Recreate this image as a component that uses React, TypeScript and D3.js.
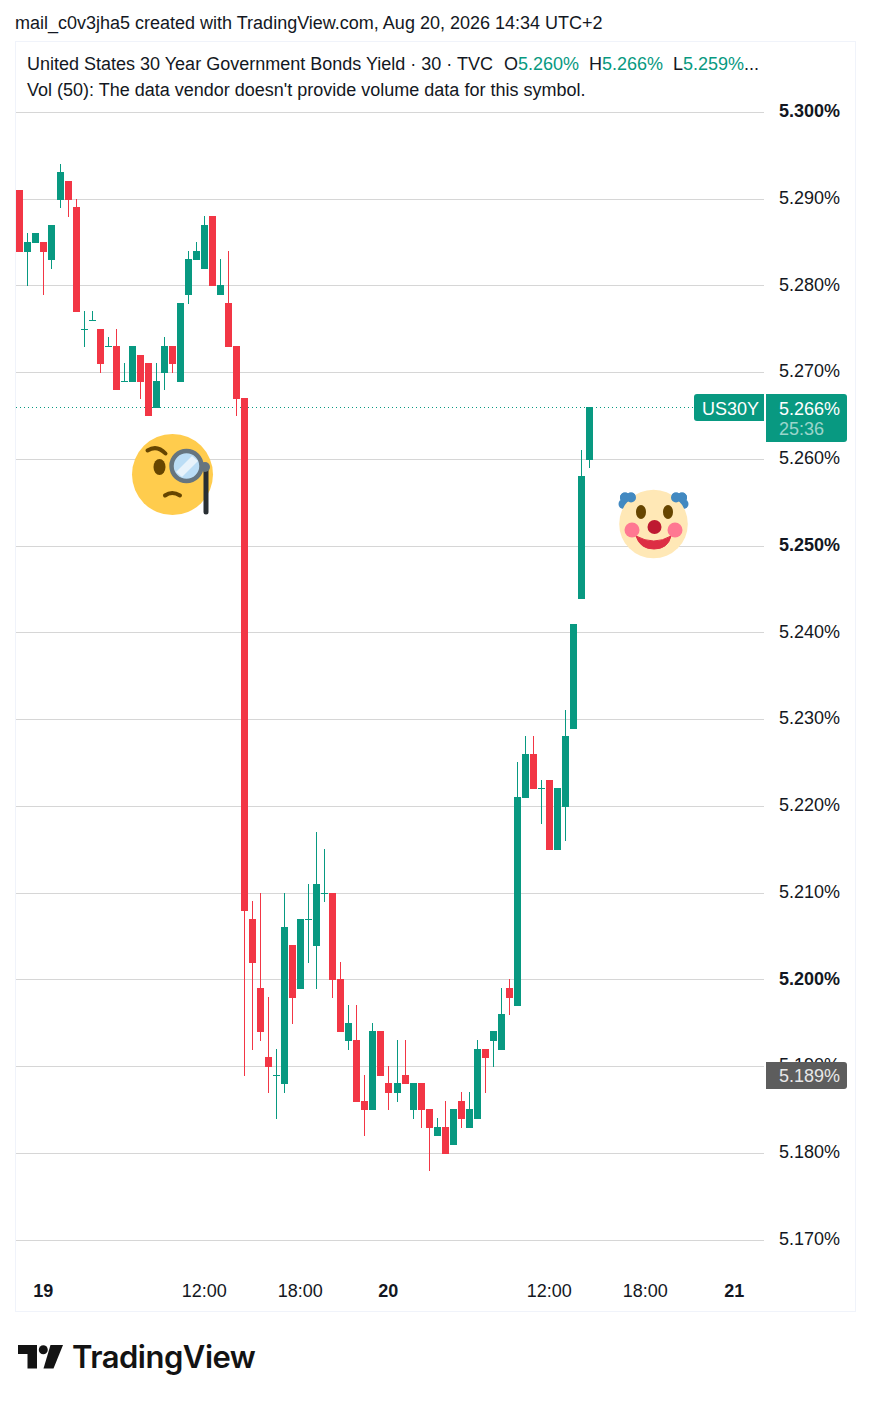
import React from "react";
import * as d3 from "d3";

const FONT = "'Liberation Sans', Arial, sans-serif";
const opens = [5.291,5.284,5.285,5.285,5.283,5.290,5.292,5.289,5.275,5.276,5.275,5.273,5.273,5.269,5.269,5.272,5.271,5.266,5.270,5.273,5.269,5.279,5.283,5.282,5.288,5.279,5.278,5.273,5.267,5.207,5.199,5.191,5.189,5.188,5.204,5.199,5.207,5.204,5.210,5.210,5.200,5.193,5.193,5.186,5.185,5.194,5.188,5.187,5.189,5.185,5.188,5.185,5.182,5.183,5.181,5.186,5.183,5.184,5.192,5.193,5.192,5.199,5.197,5.221,5.226,5.222,5.223,5.215,5.220,5.229,5.244,5.260];
const highs = [5.291,5.286,5.286,5.285,5.287,5.294,5.292,5.290,5.277,5.277,5.275,5.274,5.275,5.271,5.273,5.272,5.271,5.271,5.274,5.273,5.278,5.284,5.285,5.288,5.288,5.283,5.284,5.273,5.267,5.209,5.210,5.198,5.192,5.210,5.204,5.207,5.211,5.217,5.215,5.210,5.202,5.197,5.197,5.189,5.195,5.194,5.190,5.193,5.193,5.188,5.188,5.185,5.184,5.186,5.185,5.187,5.187,5.193,5.192,5.194,5.199,5.200,5.225,5.228,5.228,5.223,5.223,5.222,5.231,5.241,5.261,5.266];
const lows = [5.284,5.280,5.285,5.279,5.282,5.289,5.288,5.277,5.273,5.276,5.270,5.273,5.268,5.269,5.269,5.267,5.265,5.266,5.268,5.270,5.269,5.278,5.283,5.282,5.280,5.279,5.273,5.265,5.189,5.192,5.193,5.187,5.184,5.187,5.195,5.199,5.202,5.199,5.209,5.198,5.194,5.192,5.186,5.182,5.185,5.189,5.185,5.186,5.188,5.184,5.183,5.178,5.182,5.180,5.181,5.183,5.183,5.184,5.187,5.190,5.192,5.196,5.197,5.221,5.222,5.218,5.215,5.215,5.216,5.229,5.244,5.259];
const closes = [5.284,5.285,5.286,5.284,5.287,5.293,5.290,5.277,5.275,5.276,5.271,5.273,5.268,5.269,5.273,5.269,5.265,5.269,5.273,5.271,5.278,5.283,5.284,5.287,5.280,5.280,5.273,5.267,5.208,5.202,5.194,5.190,5.189,5.206,5.198,5.207,5.207,5.211,5.210,5.200,5.194,5.195,5.186,5.185,5.194,5.189,5.187,5.188,5.188,5.188,5.185,5.183,5.183,5.180,5.185,5.184,5.185,5.192,5.191,5.194,5.196,5.198,5.221,5.226,5.222,5.222,5.215,5.222,5.228,5.241,5.258,5.266];

const priceTicks = [5.30,5.29,5.28,5.27,5.26,5.25,5.24,5.23,5.22,5.21,5.20,5.19,5.18,5.17];
const boldPrices = [5.30,5.25,5.20];
const timeIdx = [3,23,35,46,66,78,89];
const timeLabels = ["19","12:00","18:00","20","12:00","18:00","21"];
const boldTimes = ["19","20","21"];
const lastPrice = 5.266;
const crosshairPrice = 5.189;

const GREEN = "#089981";
const RED = "#f23645";

const x = d3.scaleLinear().domain([0, 71]).range([16.89, 586.58]);
const y = d3.scaleLinear().domain([5.17, 5.3]).range([1240, 112.25]);
const left = (i: number) => Math.floor(x(i));
const row = (v: number) => Math.floor(y(v) + 1e-6);

const Monocle = () => (
  <g>
    <circle cx={172.5} cy={474.5} r={40.5} fill="#ffcc4d" />
    <ellipse cx={159.5} cy={467} rx={6} ry={8} fill="#664500" />
    <path d="M147.500,450.500 Q157,444.500 165.500,453.500" fill="none" stroke="#664500" strokeWidth={4} strokeLinecap="round" />
    <path d="M165,495.500 Q172,490.500 180,495.500" fill="none" stroke="#664500" strokeWidth={4} strokeLinecap="round" />
    <line x1={206} y1={468} x2={206} y2={512} stroke="#292f33" strokeWidth={5} strokeLinecap="round" />
    <circle cx={205} cy={467} r={5} fill="#66757f" />
    <circle cx={186.5} cy={466} r={15} fill="#bbddf5" stroke="#66757f" strokeWidth={4.5} />
    <path d="M176,472 L192,456 L198,461 L182,477 Z" fill="#e8f3fb" />
  </g>
);

const Clown = () => (
  <g>
    {[[625,497.5],[631,497.5],[623.500,504],[628,503],[682,497.5],[676,497.5],[683.500,504],[679,503]].map(([cx, cy], i) => (
      <circle key={i} cx={cx} cy={cy} r={5} fill="#4289c1" />
    ))}
    <circle cx={653.5} cy={524} r={34.3} fill="#ffe8b6" />
    {[[625,497.5],[631,497.5],[682,497.5],[676,497.5]].map(([cx, cy], i) => (
      <circle key={i} cx={cx} cy={cy} r={5} fill="#4289c1" />
    ))}
    <ellipse cx={641} cy={512} rx={5} ry={7} fill="#664500" />
    <ellipse cx={668} cy={512} rx={5} ry={7} fill="#664500" />
    <path d="M636,536 Q654,546 671,536 Q668,549 654,549 Q640,549 636,536 Z" fill="#dd2e44" stroke="#dd2e44" strokeWidth={1} />
    <circle cx={632} cy={530} r={7.5} fill="#ff7892" />
    <circle cx={675} cy={530} r={7.5} fill="#ff7892" />
    <circle cx={654.5} cy={527} r={7} fill="#be1931" />
  </g>
);

export default function App() {
  const textProps = { fontFamily: FONT, fontSize: 18 };
  return (
    <svg width={870} height={1402} viewBox="0 0 870 1402" style={{ position: "absolute", left: 0, top: 0, display: "block", background: "#fff" }}>
      <text x={15} y={29} fontFamily={FONT} fontSize={18} fill="#131722">
        mail_c0v3jha5 created with TradingView.com, Aug 20, 2026 14:34 UTC+2
      </text>
      <rect x={15.5} y={41.5} width={840} height={1270} fill="none" stroke="#f0f3fa" />

      {priceTicks.map((p) => (
        <rect key={p} x={16} y={row(p)} width={748} height={1} fill="#d6d6d6" />
      ))}

      <line x1={16} x2={694} y1={407.5} y2={407.5} stroke={GREEN} strokeDasharray="1 3" />

      {opens.map((o, i) => {
        const c = closes[i];
        const col = c >= o ? GREEN : RED;
        const top = row(Math.max(o, c));
        const bot = row(Math.min(o, c)) + 1;
        const hi = row(highs[i]);
        const lo = row(lows[i]) + 1;
        return (
          <g key={i} fill={col}>
            <rect x={left(i) + 3} y={hi} width={1} height={lo - hi} />
            <rect x={left(i)} y={top} width={7} height={bot - top} />
          </g>
        );
      })}

      <Monocle />
      <Clown />

      {priceTicks.map((p) => (
        <text key={p} x={779} y={Math.round(y(p) - 0.1) + 5} fontFamily={FONT} fontSize={18} fill="#131722" fontWeight={boldPrices.includes(p) ? 700 : 400}>
          {d3.format(".3f")(p)}%
        </text>
      ))}

      <path d="M697,394 H764 V421 H697 Q694,421 694,418 V397 Q694,394 697,394 Z" fill={GREEN} />
      <text x={702} y={415} fontFamily={FONT} fontSize={18} fill="#fff">US30Y</text>
      <path d="M766,394 H844 Q847,394 847,397 V439 Q847,442 844,442 H766 Z" fill={GREEN} />
      <text x={779} y={415} fontFamily={FONT} fontSize={18} fill="#fff">{d3.format(".3f")(lastPrice)}%</text>
      <text x={779} y={435} fontFamily={FONT} fontSize={18} fill="#fff" fillOpacity={0.6}>25:36</text>

      <path d="M766,1062 H844 Q847,1062 847,1065 V1086 Q847,1089 844,1089 H766 Z" fill="#5d5d5d" />
      <text x={779} y={y(crosshairPrice) + 6.5} fontFamily={FONT} fontSize={18} fill="#e8e8e8">{d3.format(".3f")(crosshairPrice)}%</text>

      {timeIdx.map((t, i) => (
        <text key={i} x={left(t) + 3.2} y={1297} textAnchor="middle" fontFamily={FONT} fontSize={18} fill="#131722" fontWeight={boldTimes.includes(timeLabels[i]) ? 700 : 400}>
          {timeLabels[i]}
        </text>
      ))}

      <g {...textProps} fill="#131722">
        <text x={27} y={70}>United States 30 Year Government Bonds Yield · 30 · TVC</text>
        <text x={504} y={70}>O</text>
        <text x={518} y={70} fill={GREEN}>5.260%</text>
        <text x={589} y={70}>H</text>
        <text x={602} y={70} fill={GREEN}>5.266%</text>
        <text x={673} y={70}>L</text>
        <text x={683} y={70} fill={GREEN}>5.259%</text>
        <text x={744} y={70}>...</text>
        <text x={27} y={96}>Vol (50): The data vendor doesn't provide volume data for this symbol.</text>
      </g>

      <g fill="#131313">
        <path d="M18,1345 H37 V1368.500 H27.500 V1354 H18 Z" />
        <circle cx={43.300} cy={1349.700} r={4.500} />
        <path d="M50.500,1345 H63 L53.500,1368.500 H43.500 Z" />
      </g>
      <text x={72} y={1368} fontFamily="Inter, 'Liberation Sans', sans-serif" fontSize={31} fontWeight={600} fill="#131313" letterSpacing={-0.5}>TradingView</text>
    </svg>
  );
}
